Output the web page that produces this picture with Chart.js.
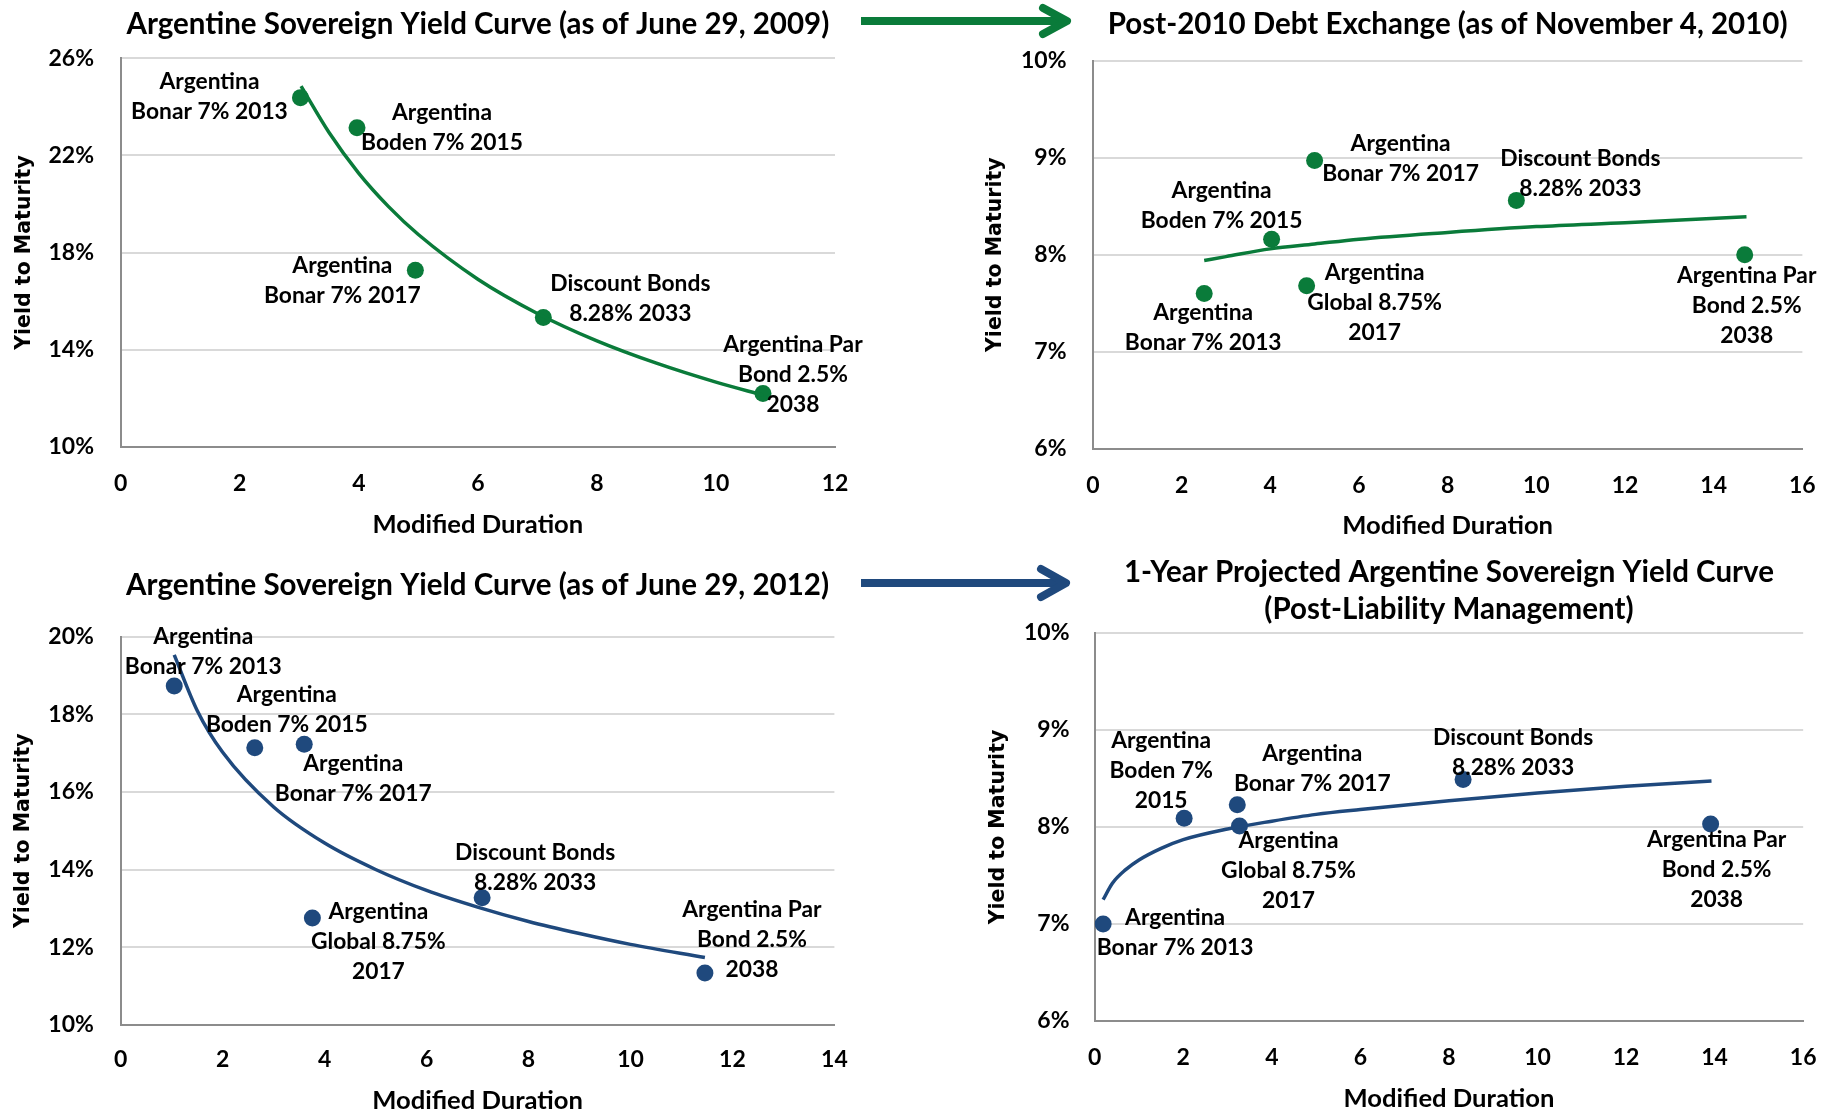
<!DOCTYPE html>
<html>
<head>
<meta charset="utf-8">
<title>Argentine Sovereign Yield Curves</title>
<script src="https://cdn.jsdelivr.net/npm/chart.js@4.4.1/dist/chart.umd.min.js"></script>
<style>
  html, body { margin: 0; padding: 0; background: #fff; overflow: hidden; width: 1839px; height: 1112px; }
  canvas, svg { position: absolute; }
</style>
</head>
<body>
<canvas id="c2009" width="915" height="550" style="left:0;top:0"></canvas>
<canvas id="c2010" width="924" height="550" style="left:915px;top:0"></canvas>
<canvas id="c2012" width="915" height="562" style="left:0;top:550px"></canvas>
<canvas id="cProj" width="924" height="562" style="left:915px;top:550px"></canvas>
<svg width="1839" height="1112" style="left:0;top:0;pointer-events:none">
  <g fill="none" stroke-width="8" stroke-linejoin="round">
    <path d="M861 21 H1066" stroke="#0A7B3A"/>
    <path d="M1043 8 L1067 21 L1043 34" stroke="#0A7B3A" stroke-linecap="round"/>
    <path d="M861 583 H1066" stroke="#1F497D"/>
    <path d="M1041 569 L1066 583 L1041 597" stroke="#1F497D" stroke-linecap="round"/>
  </g>
</svg>
<script>
// ---------- Sovereign yield curve as of June 29, 2009 ----------
const bonds2009 = ['Argentina\nBonar 7% 2013', 'Argentina\nBoden 7% 2015', 'Argentina\nBonar 7% 2017', 'Discount Bonds\n8.28% 2033', 'Argentina Par\nBond 2.5%\n2038'];
const duration2009 = [3.02, 3.97, 4.95, 7.10, 10.79];
const ytm2009 = [24.38, 23.14, 17.27, 15.32, 12.19];
const fitDuration2009 = [3.03, 3.5, 4.0, 4.5, 5.0, 6.0, 7.0, 8.0, 9.0, 10.0, 10.8];
const fitYtm2009 = [24.85, 22.94, 21.26, 19.89, 18.74, 16.90, 15.49, 14.36, 13.44, 12.66, 12.12];
const xTicks2009 = [0, 2, 4, 6, 8, 10, 12];
const yTicks2009 = [10, 14, 18, 22, 26];

// ---------- Post-2010 debt exchange, November 4, 2010 ----------
const bonds2010 = ['Argentina\nBonar 7% 2013', 'Argentina\nBoden 7% 2015', 'Argentina\nBonar 7% 2017', 'Argentina\nGlobal 8.75%\n2017', 'Discount Bonds\n8.28% 2033', 'Argentina Par\nBond 2.5%\n2038'];
const duration2010 = [2.51, 4.03, 5.00, 4.82, 9.55, 14.70];
const ytm2010 = [7.60, 8.16, 8.97, 7.68, 8.56, 8.00];
const fitDuration2010 = [2.51, 3, 4, 5, 6, 8, 10, 12, 14.74];
const fitYtm2010 = [7.94, 7.98, 8.06, 8.11, 8.16, 8.23, 8.29, 8.33, 8.39];
const xTicks2010 = [0, 2, 4, 6, 8, 10, 12, 14, 16];
const yTicks2010 = [6, 7, 8, 9, 10];

// ---------- Sovereign yield curve as of June 29, 2012 ----------
const bonds2012 = ['Argentina\nBonar 7% 2013', 'Argentina\nBoden 7% 2015', 'Argentina\nBonar 7% 2017', 'Argentina\nGlobal 8.75%\n2017', 'Discount Bonds\n8.28% 2033', 'Argentina Par\nBond 2.5%\n2038'];
const duration2012 = [1.05, 2.63, 3.60, 3.76, 7.09, 11.46];
const ytm2012 = [18.73, 17.14, 17.23, 12.75, 13.27, 11.33];
const fitDuration2012 = [1.05, 1.5, 2, 3, 4, 5, 6, 7, 8, 9, 10, 11.46];
const fitYtm2012 = [19.53, 18.10, 17.02, 15.61, 14.68, 14.00, 13.46, 13.03, 12.66, 12.35, 12.07, 11.73];
const xTicks2012 = [0, 2, 4, 6, 8, 10, 12, 14];
const yTicks2012 = [10, 12, 14, 16, 18, 20];

// ---------- 1-year projection after liability management ----------
const bondsProj = ['Argentina\nBonar 7% 2013', 'Argentina\nBoden 7%\n2015', 'Argentina\nBonar 7% 2017', 'Argentina\nGlobal 8.75%\n2017', 'Discount Bonds\n8.28% 2033', 'Argentina Par\nBond 2.5%\n2038'];
const durationProj = [0.19, 2.02, 3.22, 3.27, 8.32, 13.91];
const ytmProj = [7.00, 8.09, 8.23, 8.01, 8.49, 8.03];
const fitDurationProj = [0.19, 0.4, 0.7, 1.0, 1.5, 2.0, 3.0, 4.0, 5.0, 6.0, 8.0, 10.0, 12.0, 13.93];
const fitYtmProj = [7.25, 7.42, 7.56, 7.66, 7.78, 7.87, 7.98, 8.06, 8.13, 8.18, 8.27, 8.35, 8.42, 8.475];
const xTicksProj = [0, 2, 4, 6, 8, 10, 12, 14, 16];
const yTicksProj = [6, 7, 8, 9, 10];

const GREEN = '#0A7B3A';
const BLUE = '#1F497D';
const FONT = "Lato, 'Open Sans', sans-serif";
Chart.defaults.font.family = FONT;
Chart.defaults.color = '#000';

// Multi-line bond names drawn next to each marker
const bondLabels = {
  id: 'bondLabels',
  afterDatasetsDraw(chart, _args, opts) {
    const meta = chart.getDatasetMeta(opts.datasetIndex);
    const ctx = chart.ctx;
    ctx.save();
    ctx.font = `bold ${opts.size}px ${FONT}`;
    ctx.fillStyle = '#000';
    ctx.textAlign = 'center';
    ctx.textBaseline = 'middle';
    meta.data.forEach((pt, i) => {
      const lines = opts.names[i].split('\n');
      const [dx, dy] = opts.offsets[i];
      lines.forEach((ln, k) => {
        ctx.fillText(ln, pt.x + dx, pt.y + dy + (k - (lines.length - 1) / 2) * opts.lineHeight);
      });
    });
    ctx.restore();
  }
};

function makeChart(id, cfg) {
  const bonds = cfg.x.map((x, i) => ({ x, y: cfg.y[i] }));
  const fit = cfg.fx.map((x, i) => ({ x, y: cfg.fy[i] }));
  const f = cfg.frame;
  return new Chart(document.getElementById(id), {
    type: 'scatter',
    data: {
      datasets: [
        { data: fit, showLine: true, pointRadius: 0, borderColor: cfg.color, borderWidth: 3.5,
          cubicInterpolationMode: 'monotone', order: 0 },
        { data: bonds, pointRadius: 8.5, pointHoverRadius: 8.5, backgroundColor: cfg.color,
          borderWidth: 0, order: 1 }
      ]
    },
    options: {
      responsive: false,
      animation: false,
      devicePixelRatio: 1,
      layout: { padding: { left: 0, top: 0, bottom: 0, right: f.right } },
      plugins: {
        legend: { display: false },
        tooltip: { enabled: false },
        title: {
          display: true, text: cfg.title, fullSize: false, color: '#000',
          font: { size: 29.5, weight: 'bold', lineHeight: f.titleLH },
          padding: { top: f.titleTop, bottom: f.titleBottom }
        },
        bondLabels: { datasetIndex: 1, names: cfg.names, offsets: cfg.offsets, size: 22.8, lineHeight: 30 }
      },
      scales: {
        x: {
          type: 'linear',
          min: cfg.xTicks[0], max: cfg.xTicks[cfg.xTicks.length - 1],
          afterBuildTicks: s => { s.ticks = cfg.xTicks.map(v => ({ value: v })); },
          ticks: { padding: f.xTickPad, font: { size: 23, weight: 'bold' }, color: '#000' },
          grid: { display: false, drawTicks: false },
          border: { display: true, color: '#8C8C8C', width: 2 },
          title: { display: true, text: 'Modified Duration', color: '#000',
                   font: { size: 25.6, weight: 'bold', lineHeight: 1.2 },
                   padding: { top: 0, bottom: f.xTitlePad } },
          afterFit: s => { s.height = f.xHeight; }
        },
        y: {
          type: 'linear',
          min: cfg.yTicks[0], max: cfg.yTicks[cfg.yTicks.length - 1],
          afterBuildTicks: s => { s.ticks = cfg.yTicks.map(v => ({ value: v })); },
          ticks: { padding: f.yTickPad, font: { size: 23, weight: 'bold' }, color: '#000',
                   callback: v => v + '%' },
          grid: { color: '#D9D9D9', lineWidth: 2, drawTicks: false },
          border: { display: true, color: '#8C8C8C', width: 2 },
          title: { display: true, text: 'Yield to Maturity', color: '#000',
                   font: { family: "'DejaVu Sans', Verdana, sans-serif", size: 20.5, weight: 'bold', lineHeight: 1.2 },
                   padding: { top: f.yTitlePad, bottom: 0 } },
          afterFit: s => { s.width = f.yWidth; }
        }
      }
    },
    plugins: [bondLabels]
  });
}

makeChart('c2009', {
  title: 'Argentine Sovereign Yield Curve (as of June 29, 2009)',
  color: GREEN, names: bonds2009, x: duration2009, y: ytm2009,
  fx: fitDuration2009, fy: fitYtm2009, xTicks: xTicks2009, yTicks: yTicks2009,
  offsets: [[-91, -1], [85, 0], [-73, 10], [87, -19], [30, -19]],
  frame: { right: 80, yWidth: 120.7, xHeight: 103.3, titleLH: 1.2, titleTop: 6.3, titleBottom: 16.6,
           yTitlePad: 12.7, yTickPad: 26.7, xTickPad: 22.8, xTitlePad: 10.2 }
});

makeChart('c2010', {
  title: 'Post-2010 Debt Exchange (as of November 4, 2010)',
  color: GREEN, names: bonds2010, x: duration2010, y: ytm2010,
  fx: fitDuration2010, fy: fitYtm2010, xTicks: xTicks2010, yTicks: yTicks2010,
  offsets: [[-1, 34], [-50, -34], [86, -2], [68, 17], [64, -27], [2, 51]],
  frame: { right: 31.6, yWidth: 177.9, xHeight: 101.3, titleLH: 1.2, titleTop: 6.6, titleBottom: 18.7,
           yTitlePad: 68.7, yTickPad: 26.4, xTickPad: 23.3, xTitlePad: 8.5 }
});

makeChart('c2012', {
  title: 'Argentine Sovereign Yield Curve (as of June 29, 2012)',
  color: BLUE, names: bonds2012, x: duration2012, y: ytm2012,
  fx: fitDuration2012, fy: fitYtm2012, xTicks: xTicks2012, yTicks: yTicks2012,
  offsets: [[29, -34], [32, -38], [49, 34], [66, 24], [53, -30], [47, -33]],
  frame: { right: 80.6, yWidth: 120.7, xHeight: 87.3, titleLH: 1.2, titleTop: 17.8, titleBottom: 33.5,
           yTitlePad: 11.7, yTickPad: 26.8, xTickPad: 21.2, xTitlePad: -4.3 }
});

makeChart('cProj', {
  title: ['1-Year Projected Argentine Sovereign Yield Curve', '(Post-Liability Management)'],
  color: BLUE, names: bondsProj, x: durationProj, y: ytmProj,
  fx: fitDurationProj, fy: fitYtmProj, xTicks: xTicksProj, yTicks: yTicksProj,
  offsets: [[72, 9], [-23, -48], [75, -36], [49, 45], [50, -27], [6, 46]],
  frame: { right: 29.9, yWidth: 179.7, xHeight: 91.1, titleLH: 1.24, titleTop: 4.5, titleBottom: 5.4,
           yTitlePad: 71.7, yTickPad: 25.2, xTickPad: 22.5, xTitlePad: -1.8 }
});
</script>
</body>
</html>
